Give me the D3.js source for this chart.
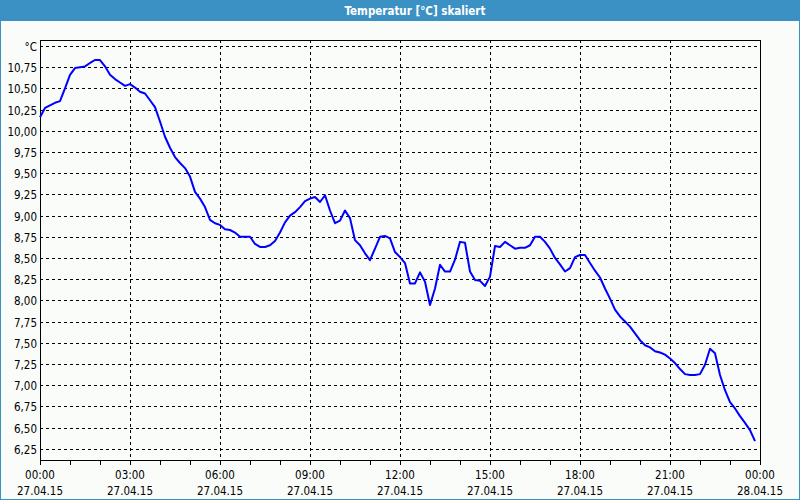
<!DOCTYPE html>
<html>
<head>
<meta charset="utf-8">
<script src="https://cdn.jsdelivr.net/npm/d3@7"></script>
<style>
  html, body { margin: 0; padding: 0; background: #fafcfa; }
  svg { display: block; }
  text { font-family: "DejaVu Sans Condensed", "DejaVu Sans", sans-serif; }
</style>
</head>
<body>
<svg id="chart" width="800" height="500"></svg>
<script>
// ---- data ----
const title = "Temperatur [°C] skaliert";
const unitLabel = "°C";
const startTime = "2015-04-27T00:00";
const endTime = "2015-04-28T00:00";
const sampleMinutes = 10;
// temperature readings every 10 minutes from 00:00 to 23:50
const temps = [
  10.16, 10.27, 10.30, 10.33, 10.35, 10.50, 10.66, 10.74, 10.75, 10.76, 10.80, 10.835,
  10.835, 10.76, 10.66, 10.61, 10.57, 10.53, 10.55, 10.51, 10.46, 10.44, 10.36, 10.28,
  10.11, 9.93, 9.80, 9.69, 9.62, 9.56, 9.46, 9.28, 9.20, 9.10, 8.95, 8.91,
  8.89, 8.84, 8.83, 8.80, 8.75, 8.75, 8.75, 8.665, 8.63, 8.63, 8.65, 8.70,
  8.80, 8.92, 9.00, 9.04, 9.10, 9.17, 9.20, 9.22, 9.16, 9.24, 9.06, 8.91,
  8.94, 9.06, 8.97, 8.71, 8.65, 8.555, 8.475, 8.61, 8.75, 8.76, 8.73, 8.57,
  8.51, 8.44, 8.20, 8.20, 8.33, 8.22, 7.945, 8.14, 8.42, 8.34, 8.34, 8.48,
  8.69, 8.68, 8.34, 8.24, 8.23, 8.17, 8.28, 8.64, 8.63, 8.69, 8.65, 8.61,
  8.62, 8.62, 8.65, 8.75, 8.75, 8.69, 8.61, 8.50, 8.425, 8.34, 8.38, 8.51,
  8.535, 8.535, 8.44, 8.35, 8.27, 8.14, 8.02, 7.89, 7.81, 7.75, 7.69, 7.61,
  7.53, 7.47, 7.445, 7.40, 7.385, 7.36, 7.315, 7.26, 7.19, 7.13, 7.12, 7.12,
  7.13, 7.24, 7.43, 7.375, 7.12, 6.94, 6.80, 6.725, 6.635, 6.555, 6.47, 6.34
];
const yTicks = [6.25, 6.5, 6.75, 7.0, 7.25, 7.5, 7.75, 8.0, 8.25, 8.5, 8.75, 9.0,
                9.25, 9.5, 9.75, 10.0, 10.25, 10.5, 10.75, 11.0];
const yDomain = [6.117, 11.071];
const majorTickHours = 3;
const minorTickHours = 1;

// ---- layout ----
const W = 800, H = 500;
const plot = { left: 40, top: 40, right: 760, bottom: 460 };
const blue = "#3b91c4";

const svg = d3.select("#chart");
const parse = d3.timeParse("%Y-%m-%dT%H:%M");
const t0 = parse(startTime), t1 = parse(endTime);
const series = temps.map((v, i) => ({ t: d3.timeMinute.offset(t0, i * sampleMinutes), v }));

const x = d3.scaleTime().domain([t0, t1]).range([plot.left, plot.right]);
const y = d3.scaleLinear().domain(yDomain).range([plot.bottom, plot.top]);

// background + outer frame
svg.append("rect").attr("x", 0).attr("y", 0).attr("width", W).attr("height", H).attr("fill", "#fafcfa");
svg.append("rect").attr("x", 0.5).attr("y", 0.5).attr("width", W - 1).attr("height", H - 1)
  .attr("fill", "none").attr("stroke", blue);
// title bar
svg.append("rect").attr("x", 0).attr("y", 0).attr("width", W).attr("height", 21).attr("fill", blue);
svg.append("text").attr("x", 415).attr("y", 14.5).attr("text-anchor", "middle")
  .attr("fill", "#fff").attr("font-weight", "bold").attr("font-size", 11.5).text(title);

// horizontal gridlines
const yFmt = v => d3.format(".2f")(v).replace(".", ",");
svg.append("g").selectAll("line").data(yTicks).join("line")
  .attr("x1", plot.left).attr("x2", plot.right)
  .attr("y1", d => Math.round(y(d)) + 0.5).attr("y2", d => Math.round(y(d)) + 0.5)
  .attr("stroke", "#000").attr("stroke-dasharray", "3,3");

// y labels
svg.append("g").selectAll("text").data(yTicks).join("text")
  .attr("x", 37).attr("y", d => Math.round(y(d)) + 4.5)
  .attr("text-anchor", "end").attr("font-size", 11.5).attr("fill", "#000")
  .text((d, i) => i === yTicks.length - 1 ? unitLabel : yFmt(d));

// vertical gridlines (major ticks inside domain)
const majorTicks = d3.timeHour.every(majorTickHours).range(t0, d3.timeMinute.offset(t1, 1));
const innerMajor = majorTicks.filter(d => +d !== +t0 && +d !== +t1);
svg.append("g").selectAll("line").data(innerMajor).join("line")
  .attr("x1", d => Math.round(x(d)) + 0.5).attr("x2", d => Math.round(x(d)) + 0.5)
  .attr("y1", plot.top).attr("y2", plot.bottom)
  .attr("stroke", "#000").attr("stroke-dasharray", "3,3");

// x axis ticks (every hour)
const minorTicks = d3.timeHour.every(minorTickHours).range(t0, d3.timeMinute.offset(t1, 1));
svg.append("g").selectAll("line").data(minorTicks).join("line")
  .attr("x1", d => Math.round(x(d)) + 0.5).attr("x2", d => Math.round(x(d)) + 0.5)
  .attr("y1", plot.bottom).attr("y2", plot.bottom + 5)
  .attr("stroke", "#000");

// x labels
const fmtTime = d3.timeFormat("%H:%M");
const fmtDate = d3.timeFormat("%d.%m.%y");
const xl = svg.append("g").selectAll("g").data(majorTicks).join("g")
  .attr("transform", d => `translate(${x(d)},0)`);
xl.append("text").attr("y", 479).attr("text-anchor", "middle").attr("font-size", 11.5).attr("fill", "#000").text(fmtTime);
xl.append("text").attr("y", 495).attr("text-anchor", "middle").attr("font-size", 11.5).attr("fill", "#000").text(fmtDate);

// plot frame
svg.append("rect").attr("x", plot.left + 0.5).attr("y", plot.top + 0.5)
  .attr("width", plot.right - plot.left).attr("height", plot.bottom - plot.top)
  .attr("fill", "none").attr("stroke", "#000");

// line
const line = d3.line().x(d => x(d.t)).y(d => y(d.v));
svg.append("path").datum(series).attr("d", line)
  .attr("fill", "none").attr("stroke", "#0000ff").attr("stroke-width", 2).attr("stroke-linejoin", "round");
</script>
</body>
</html>
